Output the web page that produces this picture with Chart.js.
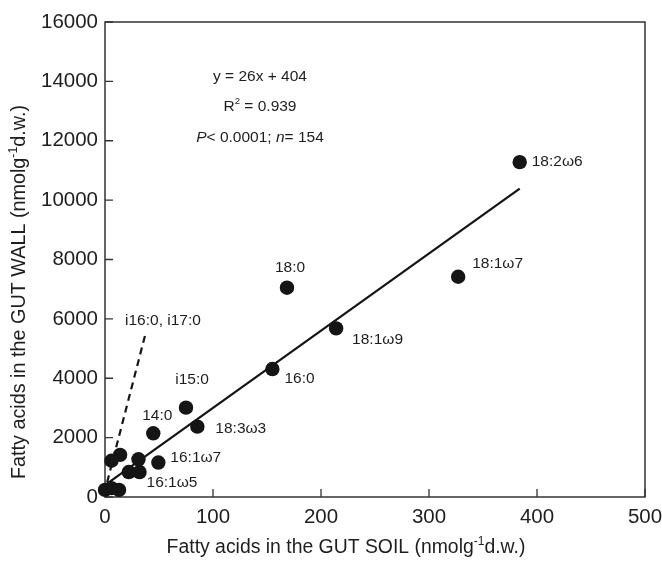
<!DOCTYPE html>
<html>
<head>
<meta charset="utf-8">
<script src="https://cdn.jsdelivr.net/npm/chart.js@4.4.1/dist/chart.umd.min.js"></script>
<style>
  html, body { margin: 0; padding: 0; background: #ffffff; }
  #wrap { width: 662px; height: 562px; position: relative; }
</style>
</head>
<body>
<div id="wrap"><canvas id="c" width="662" height="562"></canvas></div>
<script>
// ---- data ----
const acidNames = ['18:2ω6','18:1ω7','18:0','18:1ω9','16:0','i15:0','18:3ω3','14:0','16:1ω7','16:1ω5','','','','','','',''];
const soilValues = [384, 327, 168.5, 214, 155, 75, 85.5, 44.7, 49.4, 32, 22, 14, 6, 31, 0, 6, 13];
const wallValues = [11280, 7420, 7050, 5680, 4310, 3010, 2370, 2145, 1160, 840, 840, 1420, 1220, 1270, 240, 300, 240];
const fitX = [0, 384];
const fitY = [404, 10388];
const branchX = [2, 38];
const branchY = [500, 5570];
const xTicks = [0, 100, 200, 300, 400, 500];
const yTicks = [0, 2000, 4000, 6000, 8000, 10000, 12000, 14000, 16000];
const branchLabel = 'i16:0, i17:0';
const xTitleRuns = [['Fatty acids in the GUT SOIL (nmolg', 0], ['-1', 1], ['d.w.)', 0]];
const yTitleRuns = [['Fatty acids in the GUT WALL (nmolg', 0], ['-1', 1], ['d.w.)', 0]];
const statLines = [
  [['y = 26x + 404', 0, false]],
  [['R', 0, false], ['2', 1, false], [' = 0.939', 0, false]],
  [['P', 0, true], ['< 0.0001; ', 0, false], ['n', 0, true], ['= 154', 0, false]]
];

// ---- styles / label placement (pixel offsets from the point) ----
const FONT = '"Liberation Sans", Arial, Helvetica, sans-serif';
const INK = '#1e1e1e';
const labelOffsets = {
  '18:2ω6': [12, 0, 'left'],
  '18:1ω7': [14, -13, 'left'],
  '18:0': [3, -20, 'center'],
  '18:1ω9': [16, 11, 'left'],
  '16:0': [12, 10, 'left'],
  'i15:0': [6, -28, 'center'],
  '18:3ω3': [18, 2, 'left'],
  '14:0': [4, -18, 'center'],
  '16:1ω7': [12, -5, 'left'],
  '16:1ω5': [7, 11, 'left']
};

function drawRuns(ctx, runs, cx, cy, size) {
  const parts = runs.map(r => {
    const sup = r[1] === 1;
    const fs = sup ? size * 0.62 : size;
    const font = (r[2] ? 'italic ' : '') + fs + 'px ' + FONT;
    ctx.font = font;
    return { t: r[0], font, w: ctx.measureText(r[0]).width, dy: sup ? -size * 0.42 : 0 };
  });
  const total = parts.reduce((a, p) => a + p.w, 0);
  let x = cx - total / 2;
  const base = cy + size * 0.36;
  ctx.textAlign = 'left';
  ctx.textBaseline = 'alphabetic';
  parts.forEach(p => {
    ctx.font = p.font;
    ctx.fillText(p.t, x, base + p.dy);
    x += p.w;
  });
}

const decor = {
  id: 'decor',
  beforeDatasetsDraw(chart) {
    const { ctx, chartArea: a, scales } = chart;
    ctx.save();
    ctx.strokeStyle = '#333';
    ctx.lineWidth = 1.5;
    ctx.strokeRect(a.left, a.top, a.right - a.left, a.bottom - a.top);
    ctx.lineWidth = 1.3;
    ctx.beginPath();
    xTicks.forEach(v => {
      const px = scales.x.getPixelForValue(v);
      ctx.moveTo(px, a.bottom); ctx.lineTo(px, a.bottom - 8);
    });
    yTicks.forEach(v => {
      const py = scales.y.getPixelForValue(v);
      ctx.moveTo(a.left, py); ctx.lineTo(a.left + 8, py);
    });
    ctx.stroke();
    ctx.restore();
  },
  afterDatasetsDraw(chart) {
    const { ctx, chartArea: a, scales } = chart;
    ctx.save();
    ctx.fillStyle = INK;
    // point labels
    ctx.font = '15.5px ' + FONT;
    ctx.textBaseline = 'middle';
    acidNames.forEach((n, i) => {
      if (!n || !labelOffsets[n]) return;
      const o = labelOffsets[n];
      const px = scales.x.getPixelForValue(soilValues[i]);
      const py = scales.y.getPixelForValue(wallValues[i]);
      ctx.textAlign = o[2];
      ctx.fillText(n, px + o[0], py + o[1]);
    });
    // dashed branch label
    const bx = scales.x.getPixelForValue(branchX[1]);
    const by = scales.y.getPixelForValue(branchY[1]);
    ctx.textAlign = 'left';
    ctx.fillText(branchLabel, bx - 21, by - 11);
    // statistics block
    const sx = a.left + 155;
    drawRuns(ctx, statLines[0], sx, a.top + 53, 15.5);
    drawRuns(ctx, statLines[1], sx, a.top + 83, 15.5);
    drawRuns(ctx, statLines[2], sx, a.top + 114, 15.5);
    // axis titles
    drawRuns(ctx, xTitleRuns, 346, 546, 19.4);
    ctx.translate(18, 292);
    ctx.rotate(-Math.PI / 2);
    drawRuns(ctx, yTitleRuns, 0, 0, 19.8);
    ctx.restore();
  }
};

const pts = soilValues.map((x, i) => ({ x, y: wallValues[i] }));
const fitPts = fitX.map((x, i) => ({ x, y: fitY[i] }));
const branchPts = branchX.map((x, i) => ({ x, y: branchY[i] }));

new Chart(document.getElementById('c'), {
  type: 'scatter',
  data: {
    datasets: [
      {
        label: 'fatty acids',
        data: pts,
        pointRadius: 7.2,
        pointHoverRadius: 7.2,
        pointBackgroundColor: '#151515',
        pointBorderColor: '#151515',
        pointBorderWidth: 0,
        showLine: false,
        clip: false
      },
      {
        label: 'fit',
        type: 'line',
        data: fitPts,
        borderColor: '#151515',
        borderWidth: 2.2,
        pointRadius: 0,
        fill: false,
        tension: 0
      },
      {
        label: 'branch',
        type: 'line',
        data: branchPts,
        borderColor: '#151515',
        borderWidth: 2.2,
        borderDash: [7, 5],
        pointRadius: 0,
        fill: false,
        tension: 0
      }
    ]
  },
  options: {
    responsive: false,
    animation: false,
    devicePixelRatio: 1,
    layout: { padding: { left: 0, top: 22, right: 17, bottom: 0 } },
    plugins: { legend: { display: false }, tooltip: { enabled: false }, title: { display: false } },
    scales: {
      x: {
        type: 'linear',
        min: 0, max: 500,
        afterFit: s => { s.height = 65; s.paddingLeft = 0; s.paddingRight = 0; },
        afterBuildTicks: s => { s.ticks = xTicks.map(v => ({ value: v })); },
        grid: { display: false, drawTicks: false, tickLength: 0 },
        border: { display: false },
        ticks: { color: INK, font: { family: FONT, size: 20.5 }, padding: 8, maxRotation: 0 }
      },
      y: {
        type: 'linear',
        min: 0, max: 16000,
        afterFit: s => { s.width = 105; s.paddingTop = 0; s.paddingBottom = 0; },
        afterBuildTicks: s => { s.ticks = yTicks.map(v => ({ value: v })); },
        grid: { display: false, drawTicks: false, tickLength: 0 },
        border: { display: false },
        ticks: { color: INK, font: { family: FONT, size: 20.5 }, padding: 7, callback: v => String(v) }
      }
    }
  },
  plugins: [decor]
});
</script>
</body>
</html>
